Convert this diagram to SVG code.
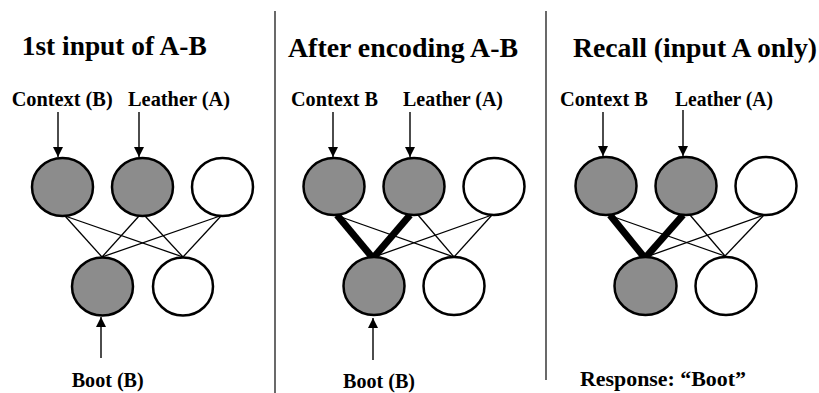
<svg xmlns="http://www.w3.org/2000/svg" width="819" height="393" viewBox="0 0 819 393">
<style>
.title{font-family:"Liberation Serif","Times New Roman",serif;font-weight:bold;font-size:27.5px;fill:#000}
.lbl{font-family:"Liberation Serif","Times New Roman",serif;font-weight:bold;font-size:22px;fill:#000}
.on{fill:#8c8c8c;stroke:#000;stroke-width:2.5}
.off{fill:#fff;stroke:#000;stroke-width:2.5}
.thin{stroke:#000;stroke-width:1.3;fill:none}
.thick{stroke:#000;stroke-width:7;fill:none}
.arr{stroke:#000;stroke-width:1.4;fill:none;marker-end:url(#ah)}
.sep{stroke:#444;stroke-width:1.6}
</style>
<defs>
<marker id="ah" markerUnits="userSpaceOnUse" markerWidth="10" markerHeight="11" refX="10" refY="5" orient="auto">
<path d="M0,0 L10,5 L0,10 Z" fill="#000"/>
</marker>
</defs>
<rect width="819" height="393" fill="#fff"/>

<g id="separators">
<line class="sep" x1="275" y1="11" x2="275" y2="393"/>
<line class="sep" x1="546" y1="11" x2="546" y2="380"/>
</g>

<g id="titles">
<text class="title" x="21.7" y="54.5" textLength="185" lengthAdjust="spacingAndGlyphs">1st input of A-B</text>
<text class="title" x="288" y="57" textLength="230" lengthAdjust="spacingAndGlyphs">After encoding A-B</text>
<text class="title" x="573" y="57" textLength="244" lengthAdjust="spacingAndGlyphs">Recall (input A only)</text>
</g>

<g id="labels">
<text class="lbl" x="11.7" y="106" textLength="101" lengthAdjust="spacingAndGlyphs">Context (B)</text>
<text class="lbl" x="128" y="106" textLength="102" lengthAdjust="spacingAndGlyphs">Leather (A)</text>
<text class="lbl" x="291" y="106" textLength="87" lengthAdjust="spacingAndGlyphs">Context B</text>
<text class="lbl" x="403" y="106" textLength="100" lengthAdjust="spacingAndGlyphs">Leather (A)</text>
<text class="lbl" x="560" y="106" textLength="88" lengthAdjust="spacingAndGlyphs">Context B</text>
<text class="lbl" x="675" y="106" textLength="98" lengthAdjust="spacingAndGlyphs">Leather (A)</text>
<text class="lbl" x="71.7" y="387" textLength="72" lengthAdjust="spacingAndGlyphs">Boot (B)</text>
<text class="lbl" x="343" y="387.5" textLength="72" lengthAdjust="spacingAndGlyphs">Boot (B)</text>
<text class="lbl" x="580" y="386" textLength="166" lengthAdjust="spacingAndGlyphs">Response: “Boot”</text>
</g>

<g id="connectors">
<!-- panel 1 -->
<line class="arr" x1="58" y1="112" x2="58" y2="157"/>
<line class="arr" x1="139" y1="112" x2="139" y2="157"/>
<line class="arr" x1="101" y1="358" x2="101" y2="317"/>
<line class="thin" x1="65" y1="216" x2="102" y2="257"/>
<line class="thin" x1="65" y1="216" x2="183" y2="257"/>
<line class="thin" x1="139" y1="216" x2="102" y2="257"/>
<line class="thin" x1="145" y1="216" x2="183" y2="257"/>
<line class="thin" x1="220" y1="216" x2="102" y2="257"/>
<line class="thin" x1="221" y1="216" x2="183" y2="257"/>
<!-- panel 2 -->
<line class="arr" x1="333" y1="112" x2="333" y2="157"/>
<line class="arr" x1="410" y1="112" x2="410" y2="157"/>
<line class="arr" x1="373" y1="360" x2="373" y2="318"/>
<line class="thick" x1="337" y1="215" x2="372" y2="257"/>
<line class="thick" x1="410" y1="215" x2="374" y2="257"/>
<line class="thin" x1="341" y1="217" x2="454" y2="257"/>
<line class="thin" x1="418" y1="215" x2="454" y2="257"/>
<line class="thin" x1="492" y1="215" x2="374" y2="257"/>
<line class="thin" x1="492" y1="215" x2="454" y2="257"/>
<!-- panel 3 -->
<line class="arr" x1="603" y1="112" x2="603" y2="156"/>
<line class="arr" x1="683" y1="110" x2="683" y2="156"/>
<line class="thick" x1="610" y1="215" x2="644" y2="257"/>
<line class="thick" x1="683" y1="215" x2="646" y2="257"/>
<line class="thin" x1="614" y1="217" x2="725" y2="256"/>
<line class="thin" x1="690" y1="215" x2="725" y2="256"/>
<line class="thin" x1="764" y1="215" x2="646" y2="257"/>
<line class="thin" x1="764" y1="215" x2="725" y2="256"/>
</g>

<g id="p1-context"><ellipse class="on" cx="62.5" cy="187" rx="30.5" ry="29"/></g>
<g id="p1-leather"><ellipse class="on" cx="142.5" cy="187" rx="30.5" ry="29"/></g>
<g id="p1-top3"><ellipse class="off" cx="222.5" cy="187" rx="30.5" ry="29"/></g>
<g id="p1-boot"><ellipse class="on" cx="102.5" cy="286.5" rx="30.5" ry="29"/></g>
<g id="p1-bottom2"><ellipse class="off" cx="183" cy="286.5" rx="30" ry="29"/></g>

<g id="p2-context"><ellipse class="on" cx="334" cy="186.5" rx="30.5" ry="28.5"/></g>
<g id="p2-leather"><ellipse class="on" cx="414" cy="186.5" rx="30.5" ry="28.5"/></g>
<g id="p2-top3"><ellipse class="off" cx="494" cy="186.5" rx="30.5" ry="28.5"/></g>
<g id="p2-boot"><ellipse class="on" cx="374" cy="286" rx="30.5" ry="29"/></g>
<g id="p2-bottom2"><ellipse class="off" cx="454" cy="286" rx="30.5" ry="29"/></g>

<g id="p3-context"><ellipse class="on" cx="606" cy="186" rx="30.5" ry="29"/></g>
<g id="p3-leather"><ellipse class="on" cx="686" cy="186" rx="30.5" ry="29"/></g>
<g id="p3-top3"><ellipse class="off" cx="766" cy="186" rx="30.5" ry="29"/></g>
<g id="p3-boot"><ellipse class="on" cx="645.5" cy="286" rx="31" ry="29"/></g>
<g id="p3-bottom2"><ellipse class="off" cx="726" cy="286" rx="30.5" ry="29"/></g>
</svg>
